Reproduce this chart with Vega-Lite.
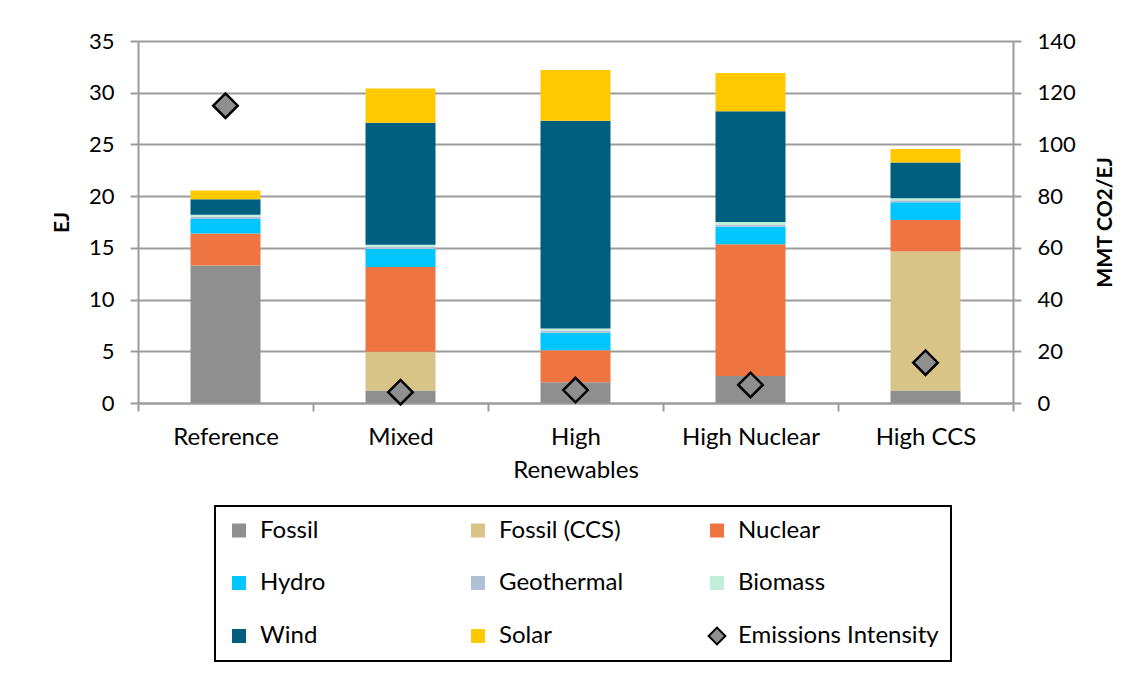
{
  "$schema": "https://vega.github.io/schema/vega-lite/v6.json",
  "width": 875,
  "height": 362,
  "autosize": {"type": "none"},
  "padding": {"left": 138, "top": 41, "right": 132, "bottom": 272},
  "background": "white",
  "config": {
    "font": "Lato",
    "view": {"stroke": null},
    "axis": {
      "labelFont": "Lato",
      "titleFont": "Lato",
      "labelColor": "black",
      "titleColor": "black",
      "domainColor": "#9c9c9c",
      "domainWidth": 2,
      "tickColor": "#9c9c9c",
      "tickWidth": 2,
      "tickSize": 8,
      "gridColor": "#9c9c9c",
      "gridWidth": 2
    }
  },
  "datasets": {
    "energy": [
      {"scenario": "Reference", "source": "Fossil", "ej": 13.3},
      {"scenario": "Reference", "source": "Nuclear", "ej": 3.1},
      {"scenario": "Reference", "source": "Hydro", "ej": 1.4},
      {"scenario": "Reference", "source": "Geothermal", "ej": 0.2},
      {"scenario": "Reference", "source": "Biomass", "ej": 0.2},
      {"scenario": "Reference", "source": "Wind", "ej": 1.5},
      {"scenario": "Reference", "source": "Solar", "ej": 0.85},
      {"scenario": "Mixed", "source": "Fossil", "ej": 1.2},
      {"scenario": "Mixed", "source": "Fossil (CCS)", "ej": 3.75},
      {"scenario": "Mixed", "source": "Nuclear", "ej": 8.2},
      {"scenario": "Mixed", "source": "Hydro", "ej": 1.75},
      {"scenario": "Mixed", "source": "Geothermal", "ej": 0.2},
      {"scenario": "Mixed", "source": "Biomass", "ej": 0.2},
      {"scenario": "Mixed", "source": "Wind", "ej": 11.8},
      {"scenario": "Mixed", "source": "Solar", "ej": 3.3},
      {"scenario": "High Renewables", "source": "Fossil", "ej": 2.0},
      {"scenario": "High Renewables", "source": "Nuclear", "ej": 3.1},
      {"scenario": "High Renewables", "source": "Hydro", "ej": 1.7},
      {"scenario": "High Renewables", "source": "Geothermal", "ej": 0.2},
      {"scenario": "High Renewables", "source": "Biomass", "ej": 0.2},
      {"scenario": "High Renewables", "source": "Wind", "ej": 20.1},
      {"scenario": "High Renewables", "source": "Solar", "ej": 4.9},
      {"scenario": "High Nuclear", "source": "Fossil", "ej": 2.6},
      {"scenario": "High Nuclear", "source": "Nuclear", "ej": 12.75},
      {"scenario": "High Nuclear", "source": "Hydro", "ej": 1.7},
      {"scenario": "High Nuclear", "source": "Geothermal", "ej": 0.2},
      {"scenario": "High Nuclear", "source": "Biomass", "ej": 0.25},
      {"scenario": "High Nuclear", "source": "Wind", "ej": 10.7},
      {"scenario": "High Nuclear", "source": "Solar", "ej": 3.7},
      {"scenario": "High CCS", "source": "Fossil", "ej": 1.2},
      {"scenario": "High CCS", "source": "Fossil (CCS)", "ej": 13.45},
      {"scenario": "High CCS", "source": "Nuclear", "ej": 3.05},
      {"scenario": "High CCS", "source": "Hydro", "ej": 1.7},
      {"scenario": "High CCS", "source": "Geothermal", "ej": 0.2},
      {"scenario": "High CCS", "source": "Biomass", "ej": 0.2},
      {"scenario": "High CCS", "source": "Wind", "ej": 3.45},
      {"scenario": "High CCS", "source": "Solar", "ej": 1.3}
    ],
    "emissions": [
      {"scenario": "Reference", "intensity": 115},
      {"scenario": "Mixed", "intensity": 4.2},
      {"scenario": "High Renewables", "intensity": 5.0},
      {"scenario": "High Nuclear", "intensity": 7.0},
      {"scenario": "High CCS", "intensity": 15.6}
    ]
  },
  "layer": [
    {
      "data": {"name": "energy"},
      "transform": [
        {"calculate": "indexof(['Fossil','Fossil (CCS)','Nuclear','Hydro','Geothermal','Biomass','Wind','Solar'], datum.source)", "as": "ord"}
      ],
      "mark": {"type": "bar", "width": {"band": 0.4}},
      "encoding": {
        "x": {
          "field": "scenario",
          "type": "nominal",
          "sort": ["Reference", "Mixed", "High Renewables", "High Nuclear", "High CCS"],
          "scale": {"paddingInner": 0, "paddingOuter": 0},
          "axis": {
            "title": null,
            "labelAngle": 0,
            "labelFontSize": 24,
            "labelPadding": 14,
            "labelLineHeight": 33,
            "labelExpr": "datum.label == 'High Renewables' ? ['High', 'Renewables'] : datum.label",
            "tickBand": "extent",
            "grid": false
          }
        },
        "y": {
          "field": "ej",
          "type": "quantitative",
          "stack": "zero",
          "scale": {"domain": [0, 35], "nice": false},
          "axis": {
            "title": "EJ",
            "titleFontSize": 21,
            "titleFontWeight": "bold",
            "titlePadding": 16,
            "values": [0, 5, 10, 15, 20, 25, 30, 35],
            "labelFontSize": 22,
            "labelPadding": 16,
            "grid": true
          }
        },
        "color": {
          "field": "source",
          "type": "nominal",
          "scale": {
            "domain": ["Fossil", "Fossil (CCS)", "Nuclear", "Hydro", "Geothermal", "Biomass", "Wind", "Solar", "Emissions Intensity"],
            "range": ["#8f8f8f", "#d9c487", "#ee7541", "#00c6ff", "#b0c1d6", "#c0eed8", "#005f7f", "#ffc800", "#8f8f8f"]
          },
          "legend": {
            "title": null,
            "orient": "none",
            "legendX": 77,
            "legendY": 465,
            "columns": 3,
            "direction": "horizontal",
            "gridAlign": "all",
            "columnPadding": 4,
            "rowPadding": 27,
            "padding": 12,
            "fillColor": "white",
            "strokeColor": "black",
            "symbolType": "square",
            "symbolSize": 196,
            "labelFontSize": 24,
            "labelFont": "Lato",
            "labelColor": "black",
            "labelOffset": 9,
            "labelLimit": 300,
            "encode": {
              "legend": {
                "update": {"strokeWidth": {"value": 2}}
              },
              "symbols": {
                "update": {
                  "shape": {"signal": "datum.value === 'Emissions Intensity' ? 'diamond' : 'square'"},
                  "stroke": {"signal": "datum.value === 'Emissions Intensity' ? 'black' : 'transparent'"},
                  "strokeWidth": {"signal": "datum.value === 'Emissions Intensity' ? 2 : 0"},
                  "size": {"signal": "datum.value === 'Emissions Intensity' ? 280 : 196"},
                  "opacity": {"value": 1}
                }
              }
            }
          }
        },
        "order": {"field": "ord", "type": "quantitative", "sort": "ascending"}
      }
    },
    {
      "data": {"name": "emissions"},
      "mark": {"type": "point", "shape": "diamond", "filled": true, "size": 600, "stroke": "black", "strokeWidth": 2.5, "opacity": 1},
      "encoding": {
        "x": {
          "field": "scenario",
          "type": "nominal",
          "sort": ["Reference", "Mixed", "High Renewables", "High Nuclear", "High CCS"]
        },
        "y": {
          "field": "intensity",
          "type": "quantitative",
          "scale": {"domain": [0, 140], "nice": false},
          "axis": {
            "orient": "right",
            "title": "MMT CO2/EJ",
            "titleFontSize": 21,
            "titleFontWeight": "bold",
            "titleAngle": 270,
            "titlePadding": 40,
            "values": [0, 20, 40, 60, 80, 100, 120, 140],
            "labelFontSize": 22,
            "labelPadding": 16,
            "grid": false
          }
        },
        "color": {"datum": "Emissions Intensity", "type": "nominal"}
      }
    }
  ],
  "resolve": {"scale": {"y": "independent"}}
}
